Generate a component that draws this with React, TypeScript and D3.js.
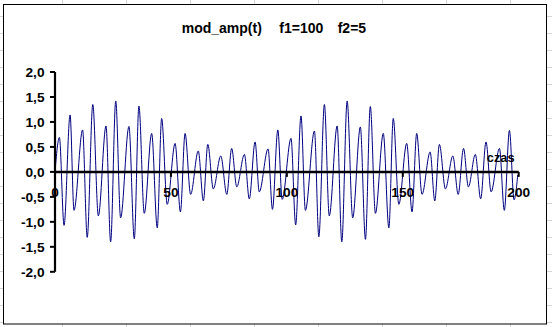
import React from "react";
import * as d3 from "d3";

// Extrema (t = sample index "czas", value = mod_amp)
const tPts = [
  0, 1.9, 3.9, 6.5, 8.2, 11.9, 13.9, 16.3, 18.7, 22.0, 24.0, 26.2, 28.3, 31.9, 34.2, 36.2, 38.5,
  41.7, 44.1, 46.0, 48.4, 51.8, 54.1, 56.1, 58.5, 61.8, 64.0, 65.9, 68.3, 71.5, 74.1, 76.2, 78.4,
  81.7, 83.8, 86.3, 88.1, 91.9, 93.8, 96.1, 98.0,
  101.8, 103.8, 106.1, 108.0, 111.9, 113.8, 116.2, 118.3, 121.7, 123.7, 126.0, 128.4, 131.7, 133.9,
  136.0, 138.2, 141.6, 144.0, 145.9, 148.3, 151.7, 154.0, 156.0, 158.3, 161.8, 163.8, 165.8, 168.4,
  171.6, 173.9, 176.2, 178.3, 181.3, 183.6, 185.9, 188.1, 191.7, 193.8, 196.0, 198.0, 199.6,
];
const ampPts = [
  0, 0.69, -1.07, 1.14, -0.77, 0.84, -1.31, 1.35, -0.88, 0.92, -1.4, 1.42, -0.92, 0.91, -1.34, 1.32, -0.83,
  0.77, -1.12, 1.07, -0.65, 0.57, -0.8, 0.77, -0.45, 0.42, -0.58, 0.55, -0.34, 0.32, -0.45, 0.47, -0.3,
  0.35, -0.54, 0.6, -0.4, 0.46, -0.75, 0.84, -0.55,
  0.67, -1.06, 1.12, -0.77, 0.82, -1.3, 1.35, -0.88, 0.92, -1.4, 1.42, -0.92, 0.9, -1.35,
  1.31, -0.83, 0.77, -1.12, 1.07, -0.65, 0.57, -0.8, 0.77, -0.45, 0.4, -0.58, 0.55, -0.34,
  0.32, -0.45, 0.47, -0.3, 0.35, -0.54, 0.6, -0.4, 0.47, -0.77, 0.83, -0.56, -0.06,
];

const xTicks = [0, 50, 100, 150, 200];
const xTickLabels = ["0", "50", "100", "150", "200"];
const yTicks = [-2, -1.5, -1, -0.5, 0, 0.5, 1, 1.5, 2];
const yTickLabels = ["-2,0", "-1,5", "-1,0", "-0,5", "0,0", "0,5", "1,0", "1,5", "2,0"];
const titleParts = ["mod_amp(t)", "f1=100", "f2=5"];
const xAxisTitle = "czas";

const W = 552;
const H = 327;
const FONT = "'Liberation Sans', Arial, sans-serif";

export default function App() {
  const x = d3.scaleLinear().domain([0, 200]).range([55, 518.7]);
  const y = d3.scaleLinear().domain([-2, 2]).range([271.8, 72]);
  const y0 = y(0);

  const data = tPts.map((t, i) => [t, ampPts[i]] as [number, number]);
  const line = d3
    .line<[number, number]>()
    .x((d) => x(d[0]))
    .y((d) => y(d[1]))
    .curve(d3.curveMonotoneX);

  const vGrid = d3.range(62, W, 64);
  const hGrid = d3.range(16, H, 17);
  const titleX = [181.7, 279.3, 337.7];

  return (
    <svg
      width={W}
      height={H}
      style={{ position: "absolute", left: 0, top: 0, background: "#fff" }}
      fontFamily={FONT}
    >
      {/* spreadsheet gridlines behind the chart */}
      {vGrid.map((gx) => (
        <line key={"v" + gx} x1={gx + 0.5} x2={gx + 0.5} y1={0} y2={H} stroke="#d4d4d4" strokeWidth={1} />
      ))}
      {hGrid.map((gy) => (
        <line key={"h" + gy} x1={0} x2={W} y1={gy + 0.5} y2={gy + 0.5} stroke="#d4d4d4" strokeWidth={1} />
      ))}
      {/* chart area */}
      <rect x={3.5} y={4.5} width={543} height={319.5} fill="#fff" stroke="#000" strokeWidth={1} />

      {/* title */}
      {titleParts.map((s, i) => (
        <text key={s} x={titleX[i]} y={33} fontSize={14} fontWeight="bold" fill="#000">
          {s}
        </text>
      ))}

      {/* series */}
      <path d={line(data) || ""} fill="none" stroke="#000080" strokeWidth={1} strokeLinejoin="round" />

      {/* y axis */}
      <line x1={55} x2={55} y1={y(2)} y2={y(-2)} stroke="#000" strokeWidth={2.2} />
      {yTicks.map((v, i) => (
        <g key={"yt" + v}>
          <line x1={50} x2={55} y1={y(v)} y2={y(v)} stroke="#000" strokeWidth={2} />
          <text
            x={44.5}
            y={y(v)}
            dy="0.36em"
            textAnchor="end"
            fontSize={13.7}
            fontWeight="bold"
            fill="#000"
          >
            {yTickLabels[i]}
          </text>
        </g>
      ))}

      {/* x axis */}
      <line x1={x(0)} x2={x(200)} y1={y0} y2={y0} stroke="#000" strokeWidth={2.5} />
      {xTicks.map((v, i) => (
        <g key={"xt" + v}>
          <line x1={x(v)} x2={x(v)} y1={y0} y2={y0 + 5} stroke="#000" strokeWidth={2} />
          <text x={x(v)} y={y0 + 25} textAnchor="middle" fontSize={13.7} fontWeight="bold" fill="#000">
            {xTickLabels[i]}
          </text>
        </g>
      ))}
      <text x={500.7} y={161.5} textAnchor="middle" fontSize={12.8} fontWeight="bold" fill="#000">
        {xAxisTitle}
      </text>
    </svg>
  );
}
